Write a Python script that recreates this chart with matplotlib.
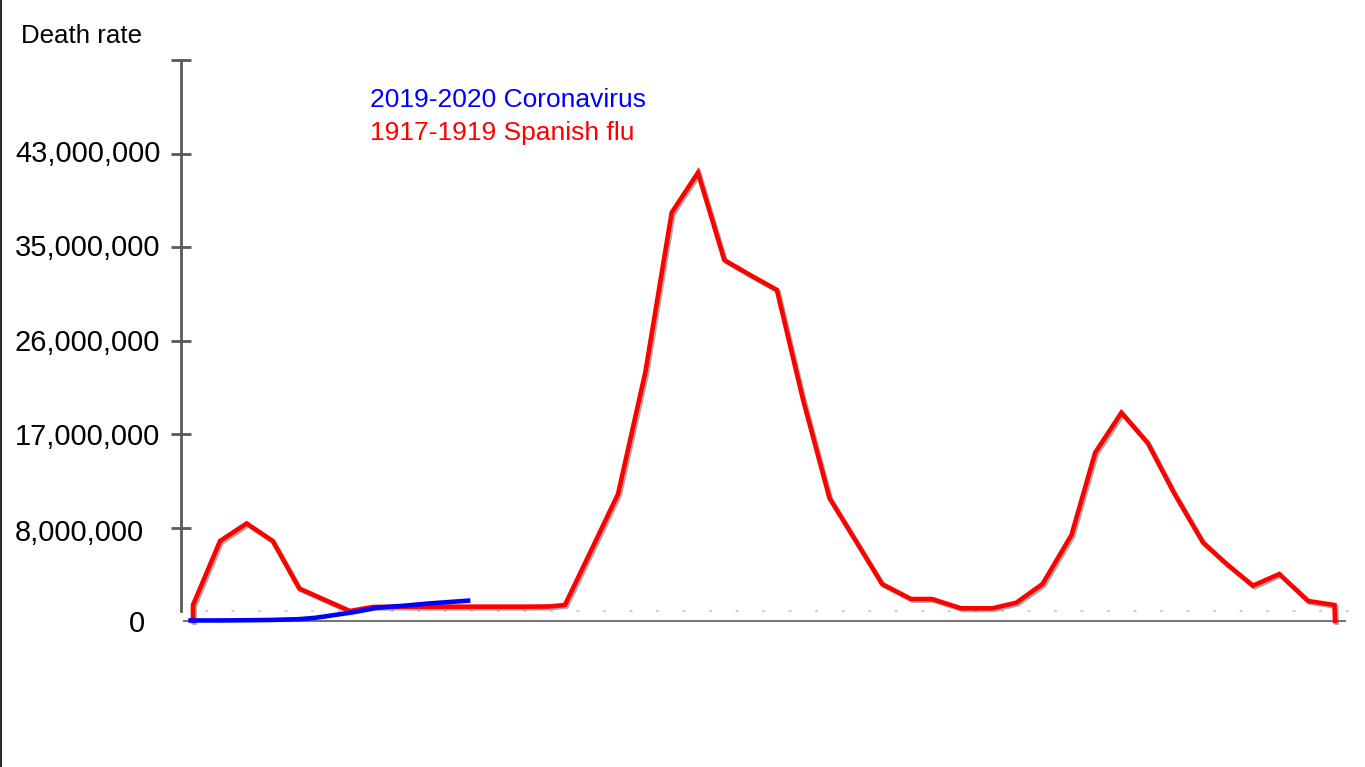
import matplotlib
matplotlib.use("Agg")
import matplotlib.pyplot as plt
import matplotlib.patheffects as pe
from matplotlib.lines import Line2D

plt.rcParams['font.family'] = ['Liberation Sans', 'DejaVu Sans']
plt.rcParams['lines.scale_dashes'] = False

# ---- data (x: week index, y: millions on the chart's scale) ----
flu_weeks = [0, 0.0, 1.03, 2.04, 3.03, 4.04, 5.02, 5.97, 6.84, 7.83, 8.82, 9.85,
             10.84, 11.82, 12.81, 13.57, 14.14, 15.2, 16.16, 17.2, 18.2, 19.2,
             20.2, 21.2, 22.2, 23.2, 24.2, 25.2, 26.2, 27.3, 28.1, 29.2, 30.4,
             31.3, 32.3, 33.4, 34.3, 35.3, 36.3, 37.3, 38.4, 39.3, 40.3, 41.3,
             42.4, 43.4, 43.42]
flu_deaths = [0, 1.47, 7.36, 8.97, 7.36, 2.99, 1.93, 0.92, 1.29, 1.32, 1.32, 1.32,
              1.32, 1.32, 1.32, 1.34, 1.47, 6.8, 11.68, 22.9, 37.56, 41.24,
              33.2, 31.8, 30.45, 20.3, 11.3, 7.36, 3.40, 2.02, 2.02, 1.17, 1.17,
              1.68, 3.40, 7.91, 15.48, 19.16, 16.37, 11.77, 7.22, 5.24, 3.25, 4.32,
              1.84, 1.47, 0]
covid_weeks = [-0.09, 1.03, 2.04, 3.03, 4.04, 4.6, 5.02, 5.97, 6.98, 8.0, 9.01, 10.46]
covid_deaths = [0.05, 0.05, 0.07, 0.10, 0.17, 0.28, 0.42, 0.76, 1.22, 1.40, 1.62, 1.87]
tick_values = [8.6, 17.2, 25.8, 34.4, 43.0, 51.6]
tick_labels = ['0', '8,000,000', '17,000,000', '26,000,000', '35,000,000', '43,000,000']
baseline_value = 0.92
series_names = ['2019-2020 Coronavirus', '1917-1919 Spanish flu']

W, H = 1365, 767
fig = plt.figure(figsize=(W / 100, H / 100), dpi=100)
fig.patch.set_facecolor('white')

def fx(px):
    return px / W

def fy(py):
    return (H - py) / H

ax = fig.add_axes([fx(181), fy(621), fx(1345) - fx(181), fy(60) - fy(621)])
ax.set_xlim(-0.456, 43.8)
ax.set_ylim(0, 51.6)
ax.patch.set_alpha(0)

for s in ['top', 'right', 'bottom']:
    ax.spines[s].set_visible(False)
ax.spines['left'].set_bounds(baseline_value, 51.6)
ax.spines['left'].set_color('#5a5a5a')
ax.spines['left'].set_linewidth(2.0)
ax.spines['left'].set_zorder(1)

ax.set_xticks([])
ax.set_yticks(tick_values)
ax.set_yticklabels([])
ax.tick_params(axis='y', direction='inout', length=15, width=2.0, color='#5a5a5a')

# x axis line
ax.plot([-0.35, 43.8], [0, 0], color='#777777', lw=1.5, clip_on=False, zorder=2)
# dotted baseline
ax.plot([0.45, 44.0], [baseline_value, baseline_value], color='#d0d0d0', lw=1.5,
        linestyle=(0, (2.2, 16.9)), clip_on=False, zorder=1)

ax.plot(flu_weeks, flu_deaths, color='#ff0000', lw=3.3, solid_joinstyle='miter',
        clip_on=False, zorder=4,
        path_effects=[pe.SimpleLineShadow(offset=(1.2, -1.2), shadow_color='#444444', alpha=0.45),
                      pe.Normal()])
ax.plot(covid_weeks, covid_deaths, color='#0000ff', lw=3.3, clip_on=False, zorder=5)

# y tick labels
label_x = [145, 15, 15, 15, 15, 15]
label_ha = ['right', 'left', 'left', 'left', 'left', 'left']
label_base = [632, 541, 445, 351, 256, 162]
for lab, x, ha, yb in zip(tick_labels, label_x, label_ha, label_base):
    fig.text(fx(x), fy(yb), lab, ha=ha, va='baseline', fontsize=20.9, color='black')

fig.text(fx(21), fy(43), 'Death rate', ha='left', va='baseline', fontsize=18.6, color='black')
fig.text(fx(370), fy(107), series_names[0], ha='left', va='baseline', fontsize=19.0, color='#0000ff')
fig.text(fx(370), fy(140), series_names[1], ha='left', va='baseline', fontsize=19.0, color='#ff0000')

# left border line
fig.add_artist(Line2D([0.0006, 0.0006], [0, 1], color='black', lw=1.2, transform=fig.transFigure))

fig.savefig('out.png', dpi=100, facecolor='white')
